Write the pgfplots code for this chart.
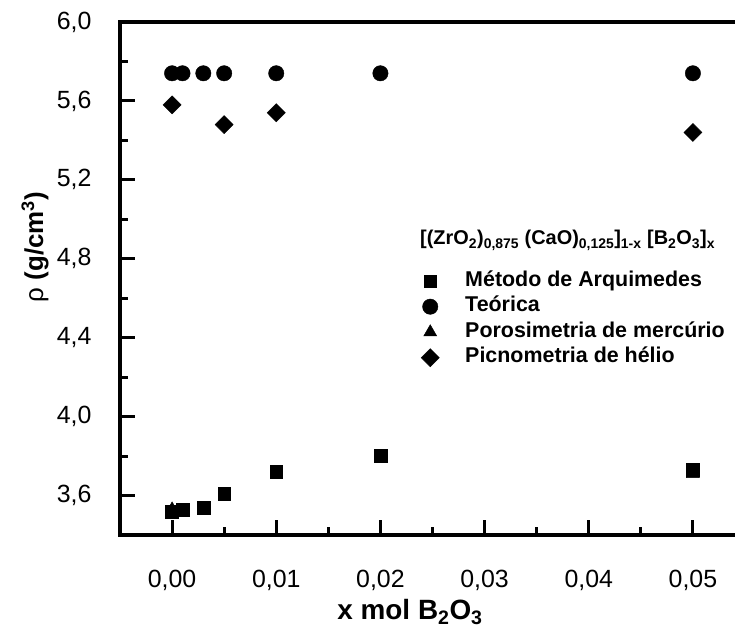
\documentclass[border=0pt]{standalone}
\usepackage{pgfplots}
\pgfplotsset{compat=1.18}
\usepackage{pgfplotstable}
\usepackage{fontspec}
\setmainfont{Liberation Sans}

% density data: x mol B2O3 versus rho (g/cm3)
\pgfplotstableread{
x      rho
0.000  3.52
0.001  3.53
0.003  3.54
0.005  3.61
0.010  3.72
0.020  3.80
0.050  3.73
}\arquimedes
\pgfplotstableread{
x      rho
0.000  5.74
0.001  5.74
0.003  5.74
0.005  5.74
0.010  5.74
0.020  5.74
0.050  5.74
}\teorica
\pgfplotstableread{
x      rho
0.000  3.53
0.050  3.71
}\porosimetria
\pgfplotstableread{
x      rho
0.000  5.58
0.005  5.48
0.010  5.54
0.050  5.44
}\picnometria

\pgfplotsset{
  pt/.style={only marks, black, mark options={fill=black, draw=black, line width=0.4bp},
    legend image code/.code={\path[draw=none, fill=none] (0bp,-6bp) rectangle (40bp,6bp);
      \draw[##1] plot coordinates {(6bp,0bp)};}},
}

\begin{document}
\begin{tikzpicture}
\begin{axis}[
  scale only axis,
  width=625bp, height=513bp,
  xmin=-0.005, xmax=0.055,
  ymin=3.4, ymax=6.0,
  xtick={0,0.01,...,0.05},
  ytick={3.6,4.0,...,6.0},
  minor x tick num=1,
  minor y tick num=1,
  scaled x ticks=false,
  tick pos=left,
  tick align=inside,
  major tick length=15bp,
  minor tick length=8bp,
  every tick/.style={black, line width=3bp},
  axis line style={line width=3.5bp},
  /pgf/number format/assume math mode=true,
  /pgf/number format/use comma,
  xticklabel style={/pgf/number format/.cd, fixed, fixed zerofill, precision=2,
    /tikz/.cd, font=\fontsize{25}{28}\selectfont, yshift=-32bp},
  yticklabel style={/pgf/number format/.cd, fixed, fixed zerofill, precision=1,
    /tikz/.cd, font=\fontsize{25}{28}\selectfont, xshift=-25bp},
  legend style={at={(axis description cs:0.4816,0.5166)}, anchor=north west,
    draw=none, fill=none, inner sep=0pt, row sep=3.5bp,
    font=\fontsize{21.5}{24}\selectfont\bfseries,
    nodes={inner sep=1bp, text height=15bp, text depth=5bp},
    cells={anchor=west}},
  clip=false,
]
\addplot[pt, mark=square*, mark size=6.4bp] table[x=x, y=rho] {\arquimedes};
\addlegendentry{Método de Arquimedes}
\addplot[pt, mark=*, mark size=7.7bp] table[x=x, y=rho] {\teorica};
\addlegendentry{Teórica}
\addplot[pt, mark=triangle*, mark size=7.5bp] table[x=x, y=rho] {\porosimetria};
\addlegendentry{Porosimetria de mercúrio}
\addplot[pt, mark=square*, mark size=6.4bp, mark options={rotate=45}] table[x=x, y=rho] {\picnometria};
\addlegendentry{Picnometria de hélio}

\node[anchor=base west, font=\fontsize{20}{24}\selectfont\bfseries, inner sep=0pt]
  at (axis description cs:0.48,0.5653)
  {[(ZrO\textsubscript{2})\textsubscript{0,875} (CaO)\textsubscript{0,125}]\textsubscript{1-x} [B\textsubscript{2}O\textsubscript{3}]\textsubscript{x}};
\node[font=\fontsize{28}{30}\selectfont\bfseries]
  at (axis description cs:0.464,-0.150) {x mol B\textsubscript{2}O\textsubscript{3}};
\node[rotate=90, font=\fontsize{26}{28}\selectfont]
  at (axis description cs:-0.136,0.561) {ρ \textbf{(g/cm\textsuperscript{3})}};
\coordinate (ll) at (rel axis cs:0,0);
\end{axis}
\pgfresetboundingbox
\path[use as bounding box] ([shift={(-120bp,-94bp)}]ll) rectangle ([shift={(615bp,535bp)}]ll);
\end{tikzpicture}
\end{document}
